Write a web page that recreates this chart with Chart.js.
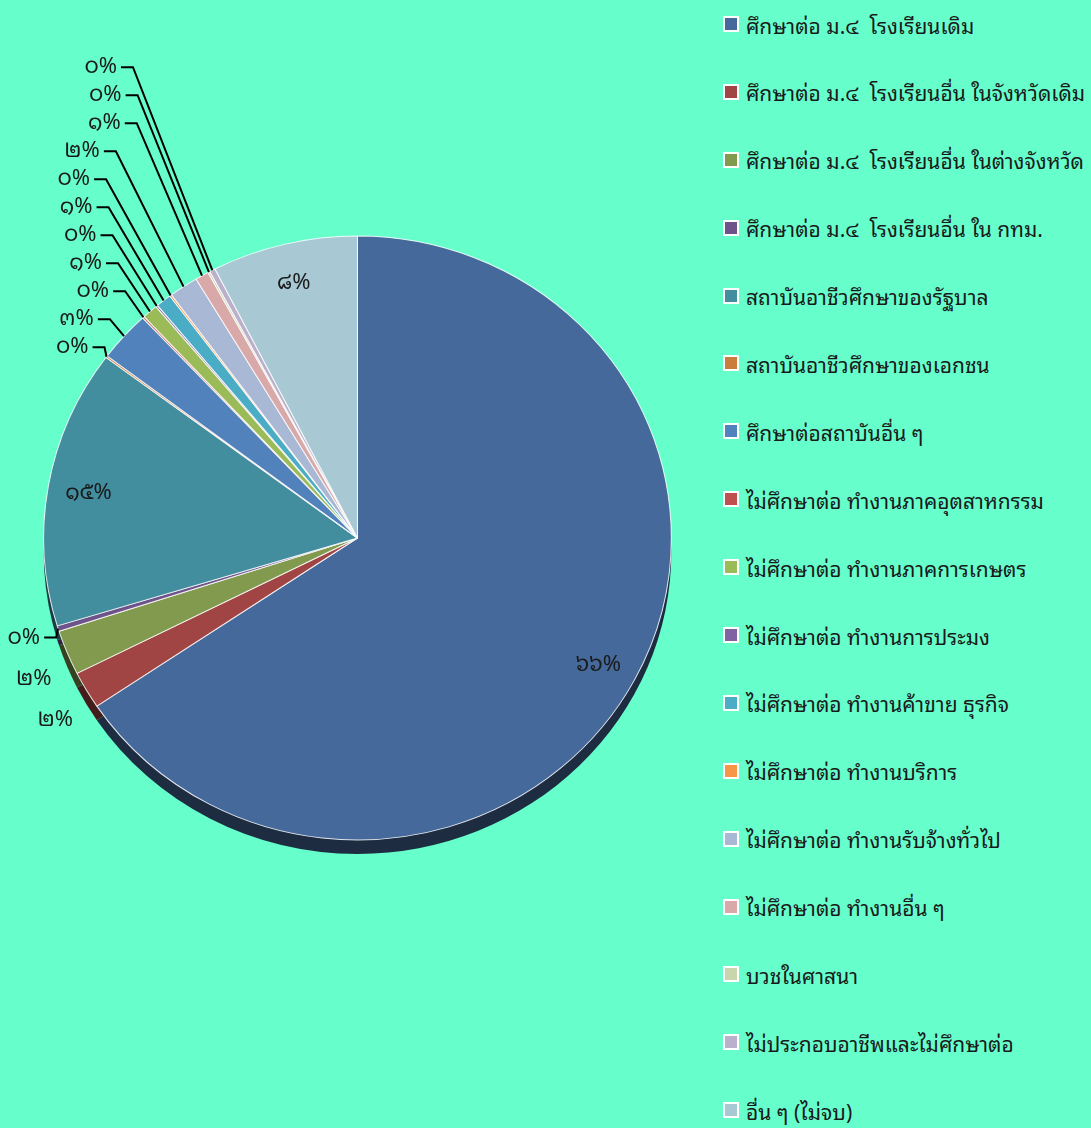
<!DOCTYPE html>
<html lang="th">
<head>
<meta charset="utf-8">
<script src="https://cdn.jsdelivr.net/npm/chart.js@4/dist/chart.umd.min.js"></script>
<style>
  html, body { margin: 0; padding: 0; background: #66ffcc; overflow: hidden; }
  body { width: 1091px; height: 1128px; position: relative; font-family: "Noto Sans Thai Looped", "Noto Sans Thai", Tahoma, "Noto Sans", sans-serif; }
  #wrap { position: absolute; left: 0; top: 0; width: 715px; height: 1128px; }
  #legend { position: absolute; left: 723px; top: 10px; margin: 0; padding: 0; list-style: none; }
  #legend li { height: 28px; margin-bottom: 39.9px; display: flex; align-items: center; white-space: pre; font-size: 21px; color: #1a1a1a; }
  #legend span.box { width: 12px; height: 12px; border: 2px solid #fff; margin-right: 7px; flex: none; }
</style>
</head>
<body>
<div id="wrap"><canvas id="pieChart"></canvas></div>
<ul id="legend"></ul>
<script>
// categories and values (in per-mille of the total)
const categories = [
    'ศึกษาต่อ ม.๔  โรงเรียนเดิม',
    'ศึกษาต่อ ม.๔  โรงเรียนอื่น ในจังหวัดเดิม',
    'ศึกษาต่อ ม.๔  โรงเรียนอื่น ในต่างจังหวัด',
    'ศึกษาต่อ ม.๔  โรงเรียนอื่น ใน กทม.',
    'สถาบันอาชีวศึกษาของรัฐบาล',
    'สถาบันอาชีวศึกษาของเอกชน',
    'ศึกษาต่อสถาบันอื่น ๆ',
    'ไม่ศึกษาต่อ ทำงานภาคอุตสาหกรรม',
    'ไม่ศึกษาต่อ ทำงานภาคการเกษตร',
    'ไม่ศึกษาต่อ ทำงานการประมง',
    'ไม่ศึกษาต่อ ทำงานค้าขาย ธุรกิจ',
    'ไม่ศึกษาต่อ ทำงานบริการ',
    'ไม่ศึกษาต่อ ทำงานรับจ้างทั่วไป',
    'ไม่ศึกษาต่อ ทำงานอื่น ๆ',
    'บวชในศาสนา',
    'ไม่ประกอบอาชีพและไม่ศึกษาต่อ',
    'อื่น ๆ (ไม่จบ)'
];
const values = [656, 20, 24, 3, 149, 1, 27, 1, 8, 1, 8, 1, 15, 7, 1, 3, 75];
const colors = [
    '#44699a', '#a04543', '#819a4e', '#6d5389', '#428e9f', '#c97c3c',
    '#5282bc', '#c0504d', '#9bbb59', '#8064a2', '#4bacc6', '#f79646',
    '#a9b8d5', '#d8a9a8', '#c9d5ad', '#bab0cb', '#a8c8d4'
];

// slight tilt: pie is drawn a bit wider than tall
const tiltX = 1.029, tiltY = 0.99;
const depth = 14;

const thaiDigits = '๐๑๒๓๔๕๖๗๘๙';
function toThai(n) {
    return String(n).replace(/[0-9]/g, d => thaiDigits[d]);
}
function darken(hex, f) {
    const n = parseInt(hex.slice(1), 16);
    const r = Math.round((n >> 16) * f), g = Math.round(((n >> 8) & 255) * f), b = Math.round((n & 255) * f);
    return 'rgb(' + r + ',' + g + ',' + b + ')';
}

// squash the pie into an ellipse and draw a darker copy below it for the 3d edge
const pieTilt = {
    id: 'pieTilt',
    beforeDatasetsDraw(chart) {
        const ctx = chart.ctx;
        const meta = chart.getDatasetMeta(0);
        const c = meta.data[0].getProps(['x', 'y'], true);
        ctx.save();
        ctx.translate(c.x, c.y);
        ctx.scale(tiltX, tiltY);
        ctx.translate(-c.x, -c.y);
        meta.data.forEach((arc, i) => {
            const p = arc.getProps(['x', 'y', 'startAngle', 'endAngle', 'outerRadius'], true);
            ctx.beginPath();
            ctx.moveTo(p.x, p.y + depth / tiltY);
            ctx.arc(p.x, p.y + depth / tiltY, p.outerRadius, p.startAngle, p.endAngle);
            ctx.closePath();
            ctx.fillStyle = darken(colors[i], 0.42);
            ctx.fill();
        });
    },
    afterDatasetsDraw(chart) {
        chart.ctx.restore();
    }
};

// percent labels: big slices inside, small ones outside with leader lines
const pctLabels = {
    id: 'pctLabels',
    afterDatasetsDraw(chart) {
        const ctx = chart.ctx;
        const total = values.reduce((a, b) => a + b, 0);
        const gap = 28;
        const outside = [];
        ctx.save();
        ctx.font = '22px "Noto Sans Thai Looped", "Noto Sans Thai", Tahoma, "Noto Sans", sans-serif';
        ctx.fillStyle = '#1a1a1a';
        ctx.textBaseline = 'middle';
        chart.getDatasetMeta(0).data.forEach((arc, i) => {
            const p = arc.getProps(['x', 'y', 'startAngle', 'endAngle', 'outerRadius'], true);
            const mid = (p.startAngle + p.endAngle) / 2;
            const pct = Math.round(values[i] * 100 / total);
            const text = toThai(pct) + '%';
            const cos = Math.cos(mid), sin = Math.sin(mid);
            // labels on the lower half sit lower by the depth of the edge
            const drop = sin > 0 ? depth * sin : 0;
            const at = (r, dy) => ({ x: p.x + cos * r * tiltX, y: p.y + sin * r * tiltY + (dy || 0) });
            if (pct >= 5) {
                const q = at(p.outerRadius * 0.87, drop * 0.5);
                ctx.textAlign = 'center';
                ctx.fillText(text, q.x, q.y);
                return;
            }
            outside.push({
                text, pct, cos, sin,
                rim: at(p.outerRadius),
                nat: at(p.outerRadius + 16, drop),
                far: at(p.outerRadius + 35, depth * 0.9)
            });
        });
        // push the upper left labels upward so they do not overlap
        const upper = outside.filter(o => o.cos < 0 && o.sin < 0).sort((a, b) => b.nat.y - a.nat.y);
        let prev = Infinity;
        upper.forEach(o => {
            o.y = Math.min(o.nat.y, prev - gap);
            prev = o.y;
        });
        ctx.strokeStyle = '#000';
        ctx.lineWidth = 2;
        outside.forEach(o => {
            if (o.y === undefined) o.y = o.nat.y;
            const moved = o.nat.y - o.y > 1;
            if (!moved && o.pct >= 1.5) {
                ctx.textAlign = 'center';
                ctx.fillText(o.text, o.far.x, o.far.y);
                return;
            }
            let x = o.rim.x - 2;
            if (moved) {
                // leader leans outward, a bit less steep than the radius
                x = o.rim.x - Math.max(0, o.rim.y - o.y) * 0.75 * Math.abs(o.cos / o.sin);
            }
            ctx.beginPath();
            ctx.moveTo(o.rim.x, o.rim.y);
            ctx.lineTo(x, o.y);
            ctx.lineTo(x - 12, o.y);
            ctx.stroke();
            ctx.textAlign = 'right';
            ctx.fillText(o.text, x - 16, o.y);
        });
        ctx.restore();
    }
};

const ctxPie = document.getElementById('pieChart').getContext('2d');
const pieChart = new Chart(ctxPie, {
    type: 'pie',
    data: {
        labels: categories,
        datasets: [{
            data: values,
            backgroundColor: colors,
            borderColor: 'rgba(255,255,255,0.85)',
            borderWidth: 1,
            radius: 305,
            clip: false
        }]
    },
    options: {
        responsive: true,
        maintainAspectRatio: false,
        animation: false,
        layout: { padding: { bottom: 52 } },
        plugins: {
            legend: { display: false },
            tooltip: { enabled: false }
        }
    },
    plugins: [pieTilt, pctLabels]
});

// html legend built from the chart's own legend items
const legendEl = document.getElementById('legend');
pieChart.options.plugins.legend.labels.generateLabels(pieChart).forEach(item => {
    const li = document.createElement('li');
    const box = document.createElement('span');
    box.className = 'box';
    box.style.background = item.fillStyle;
    li.appendChild(box);
    li.appendChild(document.createTextNode(item.text));
    legendEl.appendChild(li);
});
</script>
</body>
</html>
